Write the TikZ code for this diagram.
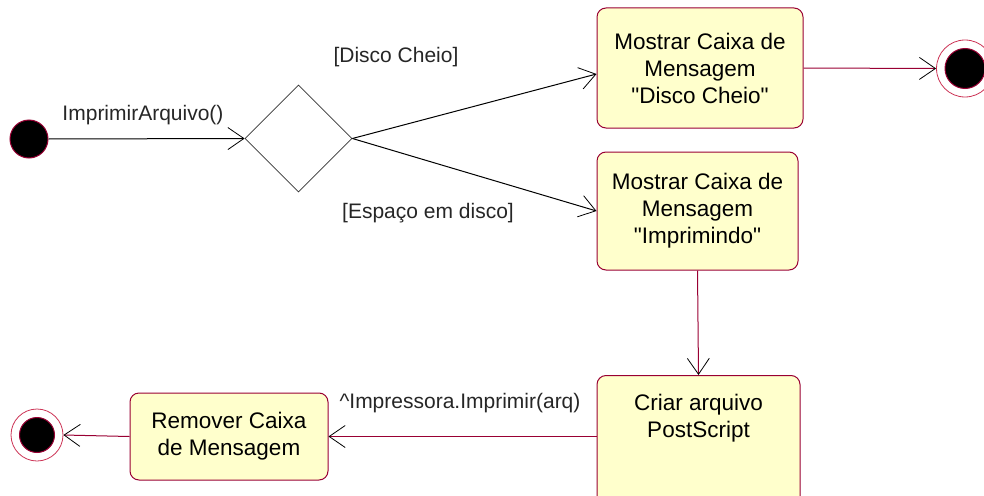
\documentclass[tikz,border=0pt]{standalone}
\usepackage{fontspec}
\setmainfont{Liberation Sans}[Ligatures=TeXOff]
\usetikzlibrary{arrows.meta,shapes.geometric}
\definecolor{boxfill}{HTML}{FFFFCC}
\definecolor{boxline}{HTML}{990033}
\definecolor{ringline}{HTML}{CC3355}
\tikzset{
  act/.style={draw=boxline, fill=boxfill, line width=1pt, rounded corners=9pt, align=center,
     font=\fontsize{22.5}{27}\selectfont, inner sep=0pt},
  lbl/.style={font=\fontsize{21}{24}\selectfont, inner sep=0pt, text=black!85},
  startst/.style={circle, fill=black, draw=boxline, line width=1pt, minimum size=38pt, inner sep=0pt},
  endring/.style={circle, fill=white, draw=ringline, line width=0.8pt, inner sep=0pt},
  endin/.style={circle, fill=black, draw=boxline, line width=1pt, inner sep=0pt},
  arr/.style={-{Straight Barb[length=16pt,width=22pt,line width=0.8pt,color=black]}, line width=1pt},
  flowblack/.style={arr, draw=black},
  flowred/.style={arr, draw=boxline},
  decis/.style={diamond, draw=black!80, fill=white, line width=0.8pt, minimum width=107pt, minimum height=107pt, inner sep=0pt, aspect=1},
}
\begin{document}
\begin{tikzpicture}[x=1pt,y=-1pt]
\useasboundingbox (0,0) rectangle (984,495);
% start
\node[startst] (ini) at (29,139) {};
% decision
\node[decis] (dec) at (298.5,138.5) {};
% activity boxes
\node[act, minimum width=206pt, minimum height=120pt] (b1) at (700,68) {Mostrar Caixa de\\Mensagem\\"Disco Cheio"};
\node[act, minimum width=201pt, minimum height=118pt] (b2) at (697.5,211) {Mostrar Caixa de\\Mensagem\\"Imprimindo"};
\node[act, minimum width=203pt, minimum height=140pt, anchor=north] (b3) at (698.5,375) {};
\node[align=center, font=\fontsize{22.5}{27}\selectfont, inner sep=0pt] (b3t) at (698.5,418) {Criar arquivo\\PostScript};
\node[act, minimum width=198pt, minimum height=87pt] (b4) at (229,436.5) {Remover Caixa\\de Mensagem};
% final states
\node[endring, minimum size=57pt] (f1o) at (965,68.5) {};
\node[endin, minimum size=40pt] (f1) at (965,68.5) {};
\node[endring, minimum size=52pt] (f2o) at (37,435) {};
\node[endin, minimum size=35pt] (f2) at (37,435) {};
% connectors
\draw[flowblack] (ini.east) -- (dec.west);
\node[lbl] (l1) at (143,115) {ImprimirArquivo()};
\draw[flowblack] (dec.east) -- ([yshift=-6pt]b1.west);
\node[lbl] (l2) at (396,57) {[Disco Cheio]};
\draw[flowblack] (dec.east) -- (b2.west);
\node[lbl] (l3) at (428,213) {[Espaço em disco]};
\draw[flowred] (b1.east) -- (f1o.west);
\draw[flowred] (b2.south) -- (b3.north);
\draw[flowred] (b3.west |- b4.east) -- (b4.east);
\node[lbl] (l4) at (460,403) {\textasciicircum Impressora.Imprimir(arq)};
\draw[flowred] (b4.west) -- (f2o.east);
\end{tikzpicture}
\end{document}
